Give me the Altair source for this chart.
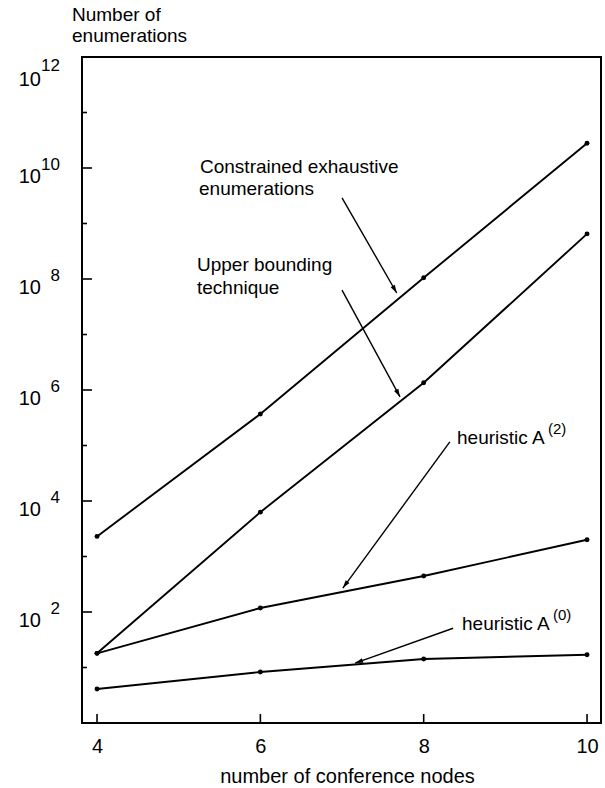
import math
import altair as alt
import pandas as pd

# ---------------- data ----------------
nodes = [4, 6, 8, 10]
constrained = [2300, 3.7e5, 1.05e8, 2.8e10]
upper_bound = [18, 6300, 1.35e6, 6.5e8]
heuristic2 = [18, 118, 445, 2000]
heuristic0 = [4.1, 8.3, 14.2, 17]
series_names = ["Constrained exhaustive", "Upper bounding", "heuristic A(2)", "heuristic A(0)"]

# annotation arrows: start (x0, y0) -> tip (x1, y1), in data units
arrow_x0 = [7.0, 7.0, 8.32, 8.36]
arrow_y0 = [2.9e9, 6.3e7, 1.16e5, 51]
arrow_x1 = [7.67, 7.71, 7.01, 7.16]
arrow_y1 = [5.6e7, 7.5e5, 270, 12]

tick_exponents = list(range(0, 13))
label_exponents = [2, 4, 6, 8, 10]
top_exponent = [12]
x_ticks = [4, 6, 8, 10]

# ---------------- layout constants ----------------
W, H = 519, 666
XDOM = [3.816, 10.171]
YDOM = [1, 1e12]
FONT = "Liberation Sans"

xs = alt.Scale(domain=XDOM, nice=False, zero=False)
ys = alt.Scale(type="log", domain=YDOM, nice=False)

xaxis = alt.Axis(
    values=x_ticks, ticks=False, domain=False, grid=False,
    labelFontSize=20, labelFont=FONT, labelColor="black", labelPadding=13.5,
    title="number of conference nodes", titleFont=FONT, titleFontSize=20,
    titleFontWeight="normal", titleColor="black", titleBaseline="alphabetic",
    titleY=59, titleX=265, titleAlign="center",
)


def X(field):
    return alt.X(field, type="quantitative", scale=xs, axis=xaxis)


def Y(field):
    return alt.Y(field, type="quantitative", scale=ys, axis=None)


rows = []
for name, vals in zip(series_names, [constrained, upper_bound, heuristic2, heuristic0]):
    for n, v in zip(nodes, vals):
        rows.append({"series": name, "n": n, "v": v})
df = pd.DataFrame(rows)


def to_px(x):
    return (x - XDOM[0]) / (XDOM[1] - XDOM[0]) * W


def to_py(y):
    return H * (1 - math.log10(y) / 12)


angles = []
for a, b, c, d in zip(arrow_x0, arrow_y0, arrow_x1, arrow_y1):
    dx = to_px(c) - to_px(a)
    dy = to_py(d) - to_py(b)
    angles.append(math.degrees(math.atan2(dx, -dy)) % 360)
arrows = pd.DataFrame({"x0": arrow_x0, "y0": arrow_y0, "x1": arrow_x1, "y1": arrow_y1, "ang": angles})

lines = alt.Chart(df).mark_line(color="black", strokeWidth=1.9).encode(
    x=X("n"), y=Y("v"), detail="series:N"
)
points = alt.Chart(df).mark_circle(color="black", size=24, opacity=1).encode(
    x=X("n"), y=Y("v")
)

arrow_lines = alt.Chart(arrows).mark_rule(color="black", strokeWidth=1.4).encode(
    x=X("x0"), y=Y("y0"), x2="x1", y2="y1"
)
arrow_heads = alt.Chart(arrows).mark_point(
    shape="M0,0L-0.3,1L0.3,1Z", filled=True, color="black", opacity=1, size=256
).encode(x=X("x1"), y=Y("y1"), angle=alt.Angle("ang:Q", scale=None))

ticks_df = pd.DataFrame({"k": tick_exponents, "v": [10.0 ** k for k in tick_exponents]})
major_ticks = alt.Chart(ticks_df).transform_filter("datum.k % 2 == 0").mark_rule(
    color="black", strokeWidth=1.6
).encode(y=Y("v"), x=alt.value(0), x2=alt.value(10))
minor_ticks = alt.Chart(ticks_df).transform_filter("datum.k % 2 == 1").mark_rule(
    color="black", strokeWidth=1.6
).encode(y=Y("v"), x=alt.value(0), x2=alt.value(5))

xt_df = pd.DataFrame({"n": x_ticks})
x_tick_marks = alt.Chart(xt_df).mark_rule(color="black", strokeWidth=1.6).encode(
    x=X("n"), y=alt.value(H), y2=alt.value(H - 9)
)

lab_df = pd.DataFrame({"k": label_exponents, "v": [10.0 ** k for k in label_exponents],
                       "base": ["10"] * len(label_exponents),
                       "e": [str(k) for k in label_exponents]})
top_df = pd.DataFrame({"k": top_exponent, "v": [10.0 ** k for k in top_exponent],
                       "base": ["10"], "e": [str(k) for k in top_exponent]})


def ylabels(data, dy_base, dy_exp):
    base = alt.Chart(data).mark_text(
        font=FONT, fontSize=20, align="right", baseline="middle", dy=dy_base, color="black"
    ).encode(y=Y("v"), x=alt.value(-41), text="base:N")
    exp = alt.Chart(data).mark_text(
        font=FONT, fontSize=17, align="right", baseline="middle", dy=dy_exp, color="black"
    ).encode(y=Y("v"), x=alt.value(-22), text="e:N")
    return [base, exp]


def label(text, px, py, size=19, align="left"):
    return alt.Chart(pd.DataFrame({"t": [text]})).mark_text(
        font=FONT, fontSize=size, align=align, baseline="alphabetic", color="black"
    ).encode(x=alt.value(px), y=alt.value(py), text="t:N")


OX, OY = 82, 57  # plot origin in the page
texts = [
    label("Number of", 72 - OX, 21 - OY, 19),
    label("enumerations", 72 - OX, 42 - OY, 19),
    label("Constrained exhaustive", 200 - OX, 173 - OY),
    label("enumerations", 199 - OX, 195 - OY),
    label("Upper bounding", 197 - OX, 271 - OY),
    label("technique", 197 - OX, 294 - OY),
    label("heuristic A", 457 - OX, 444 - OY),
    label("(2)", 548 - OX, 434 - OY, 15),
    label("heuristic A", 462 - OX, 630 - OY),
    label("(0)", 553 - OX, 620 - OY, 15),
]

chart = alt.layer(
    lines, points, arrow_lines, arrow_heads, major_ticks, minor_ticks, x_tick_marks,
    *ylabels(lab_df, 9, -3), *ylabels(top_df, 23, 9), *texts
).properties(
    width=W, height=H,
    autosize=alt.AutoSizeParams(type="none"),
    padding={"left": OX, "top": OY, "right": 605 - OX - W, "bottom": 788 - OY - H},
    background="white",
).configure_view(stroke="black", strokeWidth=2).configure_axis(grid=False)

chart.save("out.html", embed_options={"renderer": "svg", "actions": False})
